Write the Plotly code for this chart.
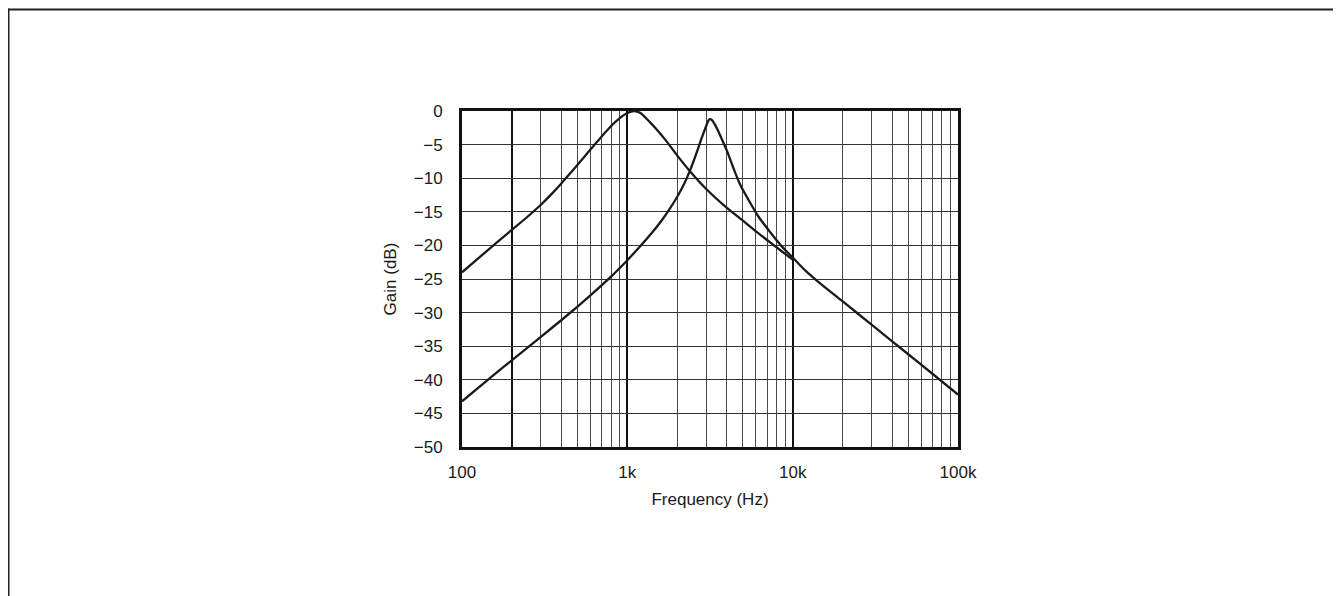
import math
import plotly.graph_objects as go

# ---- data ----
freq_a = [100, 130, 160, 200, 250, 300, 350, 400, 450, 500, 550, 600, 650, 700, 800, 900,
          1000, 1100, 1200, 1350, 1500, 1700, 2000, 2400, 3000, 4000, 5000, 6000, 7000, 8500, 10000]
gain_a = [-24.0, -21.6, -19.7, -17.7, -15.7, -13.95, -12.3, -10.75, -9.3, -8.0, -6.8, -5.7, -4.7, -3.8, -2.2, -1.05,
          -0.3, 0.0, -0.3, -1.5, -2.7, -4.3, -6.6, -9.0, -11.6, -14.4, -16.3, -17.9, -19.2, -20.8, -22.1]

freq_b = [100, 150, 200, 300, 400, 500, 600, 800, 1000, 1200, 1400, 1600, 1800, 2000, 2200, 2400, 2600, 2800,
          3000, 3080, 3150, 3250, 3400, 3550, 3700, 4000, 4400, 4800, 5400, 6200, 7300, 8500, 10000, 12000,
          14100, 20000, 30000, 50000, 70000, 100000]
gain_b = [-43.2, -39.6, -37.1, -33.6, -31.1, -29.1, -27.4, -24.6, -22.2, -20.1, -18.2, -16.4, -14.6, -12.8, -10.9,
          -8.8, -6.5, -4.2, -2.2, -1.5, -1.2, -1.35, -2.1, -3.0, -4.0, -5.9, -8.6, -10.9, -13.2, -15.7, -18.0, -20.0,
          -21.8, -23.8, -25.3, -28.3, -31.8, -36.2, -39.1, -42.2]

x_major_vals = [100, 200, 1000, 10000, 100000]
x_major_text = ["100", "", "1k", "10k", "100k"]
x_minor_vals = [m * d for d in (100, 1000, 10000) for m in range(2, 10)]
y_tick_vals = [0, -5, -10, -15, -20, -25, -30, -35, -40, -45, -50]
y_tick_text = ["0", "\u22125", "\u221210", "\u221215", "\u221220", "\u221225", "\u221230",
               "\u221235", "\u221240", "\u221245", "\u221250"]

x_title = "Frequency (Hz)"
y_title = "Gain (dB)"

# ---- geometry (figure pixel coords) ----
W, H = 1333, 596
L, R, T, B = 454, 383, 103, 157
PW, PH = W - L - R, H - T - B


def px(x):
    return (x - L) / PW


def py(y):
    return (H - B - y) / PH


FONT = "Liberation Sans, Arial, Helvetica, sans-serif"
line_style = dict(color="#1a1a1a", width=2.3)

fig = go.Figure()
fig.add_trace(go.Scatter(x=freq_a, y=gain_a, mode="lines", line=dict(shape="spline", smoothing=0.7, **line_style),
                         showlegend=False, hoverinfo="skip"))
fig.add_trace(go.Scatter(x=freq_b, y=gain_b, mode="lines", line=dict(shape="spline", smoothing=0.7, **line_style),
                         showlegend=False, hoverinfo="skip"))

fig.update_layout(
    width=W, height=H,
    margin=dict(l=L, r=R, t=T, b=B, pad=0),
    paper_bgcolor="white", plot_bgcolor="white",
    font=dict(family=FONT, size=17, color="#1a1a1a"),
    xaxis=dict(
        type="log", range=[2, 5], autorange=False,
        tickmode="array", tickvals=x_major_vals, ticktext=x_major_text,
        showgrid=True, gridcolor="#111111", gridwidth=2.4,
        minor=dict(tickmode="array", tickvals=x_minor_vals, showgrid=True, gridcolor="#4a4a4a", gridwidth=1.3,
                   ticks=""),
        ticks="", ticklabelstandoff=8,
        showline=True, mirror=True, linecolor="#111111", linewidth=3,
        zeroline=False, automargin=False,
        title=dict(text=x_title, standoff=12, font=dict(size=17)),
    ),
    yaxis=dict(
        range=[-50, 0], autorange=False,
        tickmode="array", tickvals=y_tick_vals, ticktext=y_tick_text,
        showgrid=True, gridcolor="#333333", gridwidth=1.3,
        ticks="", ticklabelstandoff=13,
        showline=True, mirror=True, linecolor="#111111", linewidth=3,
        zeroline=False, automargin=False,
        title=dict(text=y_title, standoff=13, font=dict(size=17)),
    ),
    shapes=[
        dict(type="line", xref="paper", yref="paper", x0=px(0.5), x1=px(0.5), y0=py(0.5), y1=py(H + 20),
             line=dict(color="#222222", width=2)),
        dict(type="line", xref="paper", yref="paper", x0=px(0), x1=px(W), y0=py(1.5), y1=py(1.5),
             line=dict(color="#222222", width=2)),
        dict(type="line", xref="paper", yref="paper", x0=px(W - 3), x1=px(W - 3), y0=py(1), y1=py(H + 20),
             line=dict(color="#cccccc", width=1)),
    ],
)

fig.write_html("out.html")
